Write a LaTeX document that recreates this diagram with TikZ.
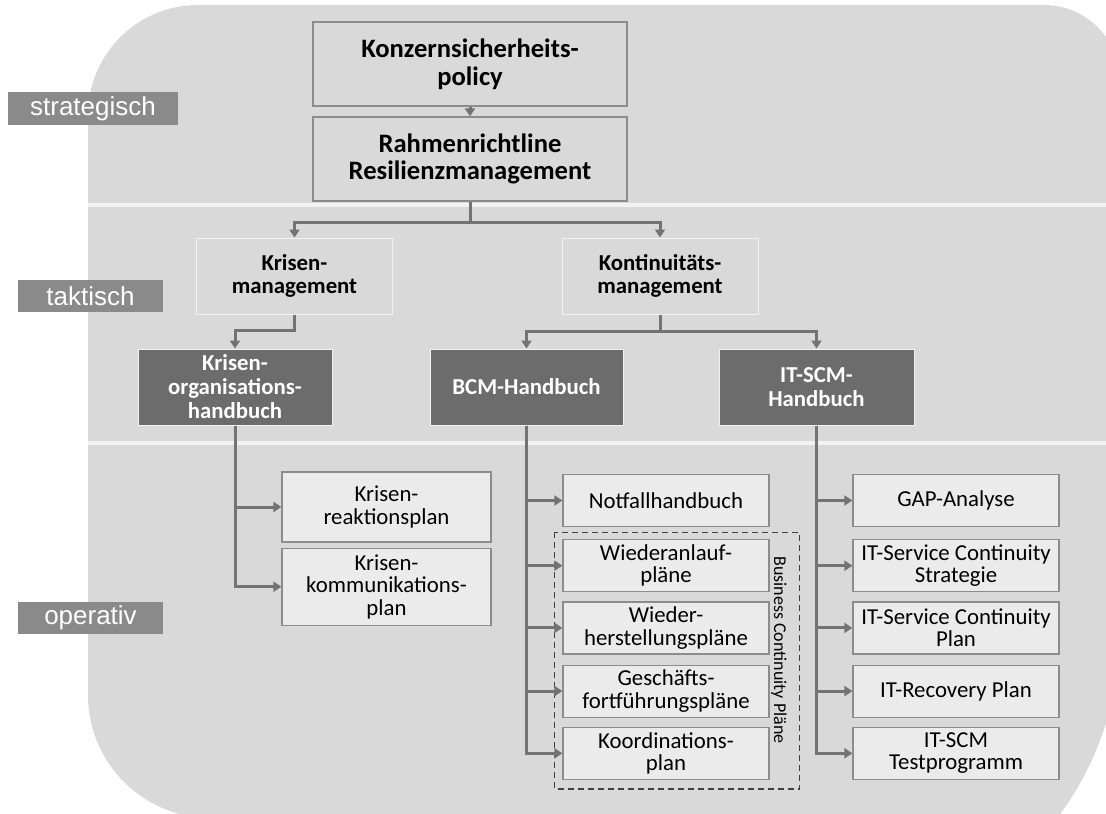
\documentclass[tikz,border=0pt]{standalone}
\usepackage{fontspec}
\setmainfont{Carlito}
\newfontfamily\levelfont{Liberation Sans}
\usetikzlibrary{
    positioning,    % For relative node placement (below=of, etc.)
    arrows.meta,    % For arrow tip styles like Triangle
    calc            % For coordinate calculations
}
\definecolor{bggray}{RGB}{217, 217, 217}
\definecolor{bandline}{RGB}{242, 242, 242}
\definecolor{levelgray}{RGB}{138, 138, 138}
\definecolor{darkbox}{RGB}{108, 108, 108}
\definecolor{lightbox}{RGB}{235, 235, 235}
\definecolor{boxline}{RGB}{140, 140, 140}
\definecolor{connline}{RGB}{115, 115, 115}

\begin{document}
\begin{tikzpicture}[
    x=0.5pt, y=-0.5pt, % one unit = one pixel of the 1106x813 frame
    >={Triangle[length=4pt, width=5pt]}, % Default arrow tip style
    % Styles
    level_label/.style={ % Style for the level tags on the left
        rectangle,
        fill=levelgray,
        text=white,
        inner sep=0pt,
        minimum width=72.5pt,
        minimum height=16pt,
        font=\levelfont\fontsize{13}{15}\selectfont
    },
    policy_box/.style={ % Style for the strategic documents
        rectangle,
        draw=boxline,
        line width=0.6pt,
        fill=bggray,
        inner sep=0pt,
        minimum width=157pt,
        minimum height=42pt,
        align=center,
        font=\bfseries\fontsize{13.3}{13.8}\selectfont
    },
    mgmt_box/.style={ % Style for the management disciplines
        rectangle,
        draw=bandline,
        line width=0.5pt,
        fill=bggray,
        inner sep=0pt,
        minimum width=98pt,
        minimum height=38pt,
        align=center,
        font=\bfseries\fontsize{11.4}{11.4}\selectfont
    },
    handbook_box/.style={ % Style for the dark handbook boxes
        mgmt_box,
        fill=darkbox,
        text=white,
        font=\bfseries\fontsize{11.4}{12}\selectfont
    },
    plan_box/.style={ % Style for the operative plans
        rectangle,
        draw=boxline,
        line width=0.6pt,
        fill=lightbox,
        inner sep=0pt,
        minimum width=103pt,
        minimum height=26pt,
        align=center,
        font=\fontsize{11.4}{11.2}\selectfont
    },
    conn/.style={
        ->, draw=connline, line width=1.5pt
    },
    group_frame/.style={
        draw=black!75, dash pattern=on 3pt off 2pt, line width=0.6pt
    }
]
\useasboundingbox (0,0) rectangle (1106,813);
\clip (0,0) rectangle (1106,813);

% --- Background with the three bands ---
\fill[bggray] (88,695) -- (88,115) arc[start angle=180, end angle=270, radius=110]
    -- (1044,5) arc[start angle=270, end angle=360, radius=76]
    -- (1120,631) arc[start angle=0, end angle=50, radius=310]
    -- (211,818) arc[start angle=90, end angle=180, radius=123] -- cycle;
\draw[bandline, line width=1.7pt] (88,205) -- (1106,205);
\draw[bandline, line width=1.7pt] (88,443) -- (1106,443);

% --- Level tags ---
\node[level_label, minimum width=85pt] (strat) at (93,108.5) {strategisch};
\node[level_label] (takt) at (90.5,296) {taktisch};
\node[level_label] (oper) at (90.5,618) {operativ};

% --- Strategic level ---
\node[policy_box] (policy) at (470,64) {Konzernsicherheits-\\policy};
\node[policy_box] (rahmen) at (470,159) {Rahmenrichtline\\Resilienzmanagement};
\draw[conn] (policy) -- (rahmen);

% --- Tactical level ---
\node[mgmt_box] (krisen_mgmt) at (294.5,276) {Krisen-\\management};
\node[mgmt_box] (konti_mgmt) at (660,276) {Kontinuitäts-\\management};
\draw[conn] (rahmen.south) -- ++(0,21) -| (krisen_mgmt.north);
\draw[conn] (rahmen.south) -- ++(0,21) -| (konti_mgmt.north);

\node[handbook_box, minimum width=97pt] (krisen_org) at (235,387) {Krisen-\\organisations-\\handbuch};
\node[handbook_box, minimum width=96.5pt] (bcm_hb) at (526.5,387) {BCM-Handbuch};
\node[handbook_box, minimum width=97.5pt] (itscm_hb) at (816.5,387) {IT-SCM-\\Handbuch};
\draw[conn] (krisen_mgmt.south) -- ++(0,16) -| (krisen_org.north);
\draw[conn] (konti_mgmt.south) -- ++(0,17) -| (bcm_hb.north);
\draw[conn] (konti_mgmt.south) -- ++(0,17) -| (itscm_hb.north);

% --- Operative level: crisis plans ---
\node[plan_box, minimum width=104.5pt, minimum height=35pt] (krisen_reakt) at (386.5,507) {Krisen-\\reaktionsplan};
\node[plan_box, minimum width=104.5pt, minimum height=38.5pt] (krisen_komm) [below=2.5pt of krisen_reakt] {Krisen-\\kommunikations-\\plan};

% --- Operative level: business continuity ---
\node[plan_box] (notfall) at (666,500.5) {Notfallhandbuch};
\node[plan_box] (wiederanlauf) [below=6pt of notfall] {Wiederanlauf-\\pläne};
\node[plan_box] (wiederherst) [below=4.5pt of wiederanlauf] {Wieder-\\herstellungspläne};
\node[plan_box] (geschaeft) [below=5pt of wiederherst] {Geschäfts-\\fortführungspläne};
\node[plan_box] (koord) [below=4.5pt of geschaeft] {Koordinations-\\plan};
\draw[group_frame] ($(wiederanlauf.north west)+(-8,-7)$) rectangle ($(koord.south east)+(30,9)$);
\node[rotate=-90, font=\fontsize{9}{10}\selectfont] (bcp_label) at (779,650) {Business Continuity Pläne};

% --- Operative level: IT service continuity ---
\node[plan_box] (gap) at (956,500.5) {GAP-Analyse};
\node[plan_box] (itsc_strat) [below=6pt of gap] {IT-Service Continuity\\Strategie};
\node[plan_box] (itsc_plan) [below=4.5pt of itsc_strat] {IT-Service Continuity\\Plan};
\node[plan_box] (it_recovery) [below=5pt of itsc_plan] {IT-Recovery Plan};
\node[plan_box] (itscm_test) [below=4.5pt of it_recovery] {IT-SCM\\Testprogramm};

% Connectors from the handbooks down to the plans
\foreach \plan in {krisen_reakt, krisen_komm}
    \draw[conn] (krisen_org.south) |- (\plan.west);
\foreach \plan in {notfall, wiederanlauf, wiederherst, geschaeft, koord}
    \draw[conn] (bcm_hb.south) |- (\plan.west);
\foreach \plan in {gap, itsc_strat, itsc_plan, it_recovery, itscm_test}
    \draw[conn] (itscm_hb.south) |- (\plan.west);

\end{tikzpicture}
\end{document}
